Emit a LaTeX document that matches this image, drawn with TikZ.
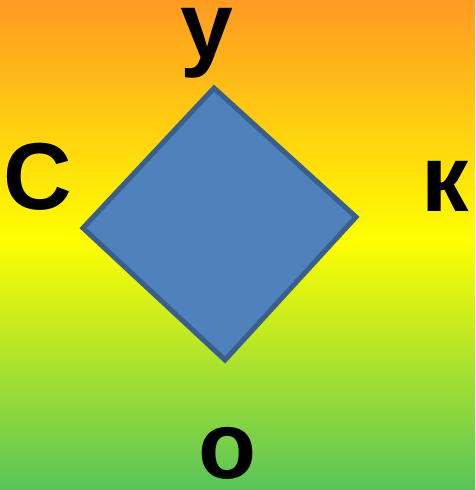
\documentclass[tikz,border=0pt]{standalone}
\usepackage{fontspec}
\setmainfont{Liberation Sans}
\definecolor{topor}{HTML}{FF9A22}
\definecolor{midye}{HTML}{FFFF00}
\definecolor{botgr}{HTML}{58C45A}
\definecolor{dfill}{HTML}{4F81BD}
\definecolor{dline}{HTML}{3A5F8B}
\begin{document}
\begin{tikzpicture}[x=1pt,y=-1pt,
  letter/.style={anchor=base,inner sep=0pt,font=\bfseries\fontsize{95}{114}\selectfont,
    text height=0.54em,text depth=0.01em},
  capletter/.style={letter,text height=0.73em}]
\useasboundingbox (0,0) rectangle (475,490);
\shade[top color=topor,bottom color=midye] (0,0) rectangle (475,240);
\shade[top color=midye,bottom color=botgr] (0,240) rectangle (475,490);
\draw[dline,fill=dfill,line width=5pt,line join=miter] (214,88) -- (356,217) -- (225,360) -- (83,228) -- cycle;
\node[letter,text depth=0.21em] (u) at (207,58) {у};
\node[capletter] (s) at (38,209) {С};
\node[letter] (k) at (445,211) {к};
\node[letter] (o) at (228,478) {о};
\end{tikzpicture}
\end{document}
